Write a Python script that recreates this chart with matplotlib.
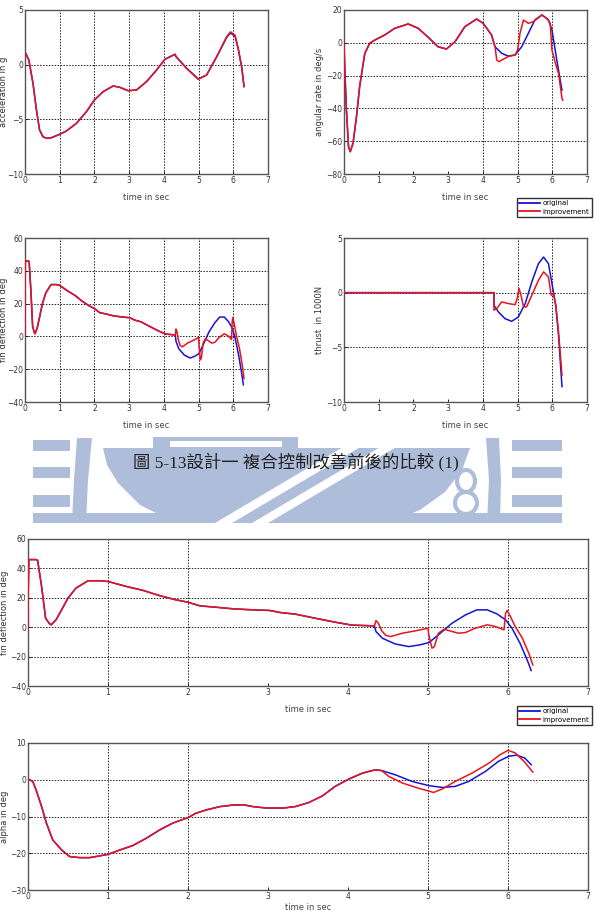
import matplotlib
matplotlib.use("Agg")
import matplotlib.pyplot as plt
from matplotlib.patches import Polygon, Rectangle, Ellipse
from matplotlib.lines import Line2D

W, H = 595, 911

# ---- data -------------------------------------------------------------
# acceleration in g (both runs identical until ~4.3 s)
acc_t = [0.0, 0.02, 0.11, 0.23, 0.33, 0.42, 0.52, 0.62, 0.76, 1.0, 1.19, 1.48, 1.77,
         2.0, 2.25, 2.54, 2.73, 2.97, 3.21, 3.5, 3.79, 4.03, 4.32]
acc_y = [1.0, 1.04, 0.43, -1.7, -4.15, -5.98, -6.6, -6.74, -6.68, -6.37, -6.07, -5.37, -4.3,
         -3.23, -2.47, -1.95, -2.07, -2.38, -2.32, -1.55, -0.49, 0.49, 0.95]
acc_orig_t = [4.32, 4.35, 4.65, 4.99, 5.23, 5.52, 5.81, 5.92, 6.05, 6.14, 6.24, 6.31]
acc_orig_y = [0.95, 0.75, -0.3, -1.3, -0.95, 0.7, 2.5, 2.9, 2.6, 1.5, -0.2, -2.0]
acc_impr_t = [4.32, 4.35, 4.65, 4.99, 5.23, 5.52, 5.81, 5.92, 6.05, 6.14, 6.24, 6.31]
acc_impr_y = [0.95, 0.73, -0.34, -1.34, -0.95, 0.73, 2.56, 3.0, 2.7, 1.5, -0.18, -2.0]

# angular rate in deg/s
rate_t = [0.0, 0.02, 0.07, 0.13, 0.18, 0.26, 0.36, 0.45, 0.6, 0.74, 0.89, 1.17, 1.46,
          1.85, 2.14, 2.43, 2.71, 2.95, 3.2, 3.48, 3.82, 4.01, 4.25, 4.35]
rate_y = [0.0, -14.5, -41, -63.3, -66.4, -61.3, -45, -26.7, -6.4, -0.3, 1.7, 4.75, 8.8,
          11.5, 8.8, 3.3, -2.4, -3.8, 0.7, 9.8, 14.5, 11.9, 4.75, -2.4]
rate_orig_t = [4.35, 4.54, 4.73, 4.93, 5.12, 5.31, 5.5, 5.7, 5.89, 5.99, 6.13, 6.26, 6.28]
rate_orig_y = [-2.4, -6.4, -8.1, -7.4, -2.4, 5.8, 13.9, 17, 14, 7.9, -10.5, -26.7, -28.8]
rate_impr_t = [4.35, 4.4, 4.46, 4.73, 4.93, 5.0, 5.07, 5.17, 5.31, 5.46, 5.7, 5.84, 5.94,
               5.99, 6.09, 6.18, 6.28, 6.3]
rate_impr_y = [-2.4, -10.5, -11.5, -8.4, -7.4, -4.4, 5.8, 13.9, 11.9, 12.9, 17, 14.9, 11.9,
               -4.4, -12.5, -18.6, -33.9, -35]

# fin deflection in deg
fin_t = [0.0, 0.0, 0.01, 0.1, 0.12, 0.17, 0.22, 0.27, 0.29, 0.35, 0.42, 0.5, 0.6, 0.75,
         0.9, 1.0, 1.23, 1.44, 1.65, 1.85, 2.0, 2.15, 2.35, 2.56, 2.81, 3.02, 3.15, 3.34,
         3.59, 3.84, 4.05, 4.33]
fin_y = [0.0, 14, 46, 46, 45.5, 27.7, 6.1, 2.3, 1.6, 5, 11.8, 19.8, 26.6, 31.6,
         31.6, 31.1, 27.7, 25, 21.4, 18.6, 17, 14.5, 13.6, 12.5, 11.8, 11.4, 10, 8.9,
         6.1, 3.4, 1.4, 0.9]
fin_orig_t = [4.33, 4.35, 4.43, 4.59, 4.76, 4.9, 5.01, 5.13, 5.3, 5.47, 5.61, 5.74, 5.86,
              5.97, 6.05, 6.15, 6.24, 6.29]
fin_orig_y = [0.9, -3, -7.5, -11.4, -13.2, -12, -10.5, -5.2, 2.7, 8.4, 11.8, 11.8, 9.1,
              5, -0.7, -10.9, -22.3, -29.5]
fin_impr_t = [4.33, 4.35, 4.38, 4.42, 4.47, 4.53, 4.68, 4.84, 5.0, 5.01, 5.05, 5.08, 5.13,
              5.2, 5.26, 5.38, 5.47, 5.59, 5.74, 5.84, 5.95, 5.97, 5.99, 6.03, 6.09, 6.18,
              6.26, 6.31]
fin_impr_y = [0.9, 4.5, 2.7, -2.3, -5.5, -6.4, -4.1, -2.5, -0.7, -5.2, -14.3, -13.2, -4.1,
              -1.4, -2.3, -4.1, -3.6, -0.7, 1.6, 0.5, -1.8, 9.5, 11.4, 7.3, 0.5, -7.5,
              -17.7, -25.7]

# thrust in 1000N
thr_t = [0.0, 4.32]
thr_y = [0.0, 0.0]
thr_orig_t = [4.32, 4.32, 4.45, 4.64, 4.83, 5.02, 5.22, 5.41, 5.6, 5.75, 5.89, 6.0, 6.1,
              6.18, 6.28]
thr_orig_y = [0.0, -1.16, -1.77, -2.38, -2.62, -2.23, -1.0, 0.98, 2.65, 3.26, 2.65, 0.67,
              -1.16, -3.9, -8.6]
thr_impr_t = [4.32, 4.32, 4.4, 4.54, 4.74, 4.93, 5.0, 5.04, 5.1, 5.17, 5.26, 5.41, 5.6,
              5.75, 5.89, 5.97, 6.03, 6.1, 6.18, 6.28]
thr_impr_y = [0.0, -1.6, -1.46, -0.85, -1.0, -1.1, -0.4, 0.4, -0.24, -1.3, -1.3, -0.24,
              1.13, 1.9, 1.43, -0.24, -0.09, -1.16, -3.6, -7.56]

# alpha in deg
alp_t = [0.0, 0.06, 0.1, 0.17, 0.23, 0.31, 0.42, 0.52, 0.65, 0.77, 0.9, 1.0, 1.15, 1.31,
         1.48, 1.65, 1.81, 2.0, 2.1, 2.23, 2.4, 2.56, 2.69, 2.81, 2.98, 3.19, 3.34, 3.51,
         3.68, 3.84, 4.01, 4.18, 4.34, 4.42]
alp_y = [0.18, -0.45, -2.7, -7.3, -11.8, -16.4, -19.1, -20.9, -21.2, -21.2, -20.7, -20.3,
         -19.1, -17.9, -15.9, -13.6, -11.8, -10.3, -9.1, -8.2, -7.3, -6.9, -6.8, -7.3,
         -7.7, -7.7, -7.3, -6.2, -4.4, -1.8, 0.18, 1.8, 2.7, 2.5]
alp_orig_t = [4.42, 4.59, 4.8, 5.01, 5.18, 5.34, 5.51, 5.72, 5.88, 6.01, 6.11, 6.21, 6.29]
alp_orig_y = [2.5, 1.36, -0.45, -1.6, -2.1, -1.8, -0.45, 2.3, 5.0, 6.4, 6.7, 5.9, 4.1]
alp_impr_t = [4.42, 4.51, 4.68, 4.88, 5.07, 5.18, 5.34, 5.55, 5.76, 5.9, 6.0, 6.09, 6.2, 6.31]
alp_impr_y = [2.5, 0.9, -0.9, -2.3, -3.45, -2.5, -0.45, 1.8, 4.5, 6.8, 8.0, 7.3, 5.0, 2.1]

time_ticks = [0, 1, 2, 3, 4, 5, 6, 7]
caption = "圖 5-13設計一 複合控制改善前後的比較 (1)"

BLUE = "#1414d2"
RED = "#e8141c"
WM = "#aebdda"


def px_rect(left, top, right, bottom):
    return [left / W, 1 - bottom / H, (right - left) / W, (bottom - top) / H]


def pt(x, y):
    return (x / W, 1 - y / H)


fig = plt.figure(figsize=(W / 100, H / 100), dpi=100)

# ---- watermark (school logo behind the caption) ------------------------
wm_patches = []
for x0, x1 in [(33, 70), (512, 562)]:
    for y0, y1 in [(440, 451), (467, 478), (495, 507)]:
        wm_patches.append(Rectangle(pt(x0, y1), (x1 - x0) / W, (y1 - y0) / H))
wm_patches.append(Rectangle(pt(33, 523), (562 - 33) / W, 10 / H))
wm_patches.append(Polygon([pt(77, 438), pt(92, 438), pt(88, 480), pt(86, 523), pt(72, 523),
                           pt(74, 480)]))
wm_patches.append(Polygon([pt(486, 438), pt(499, 438), pt(501, 480), pt(500, 523),
                           pt(487, 523), pt(489, 480)]))
wm_patches.append(Polygon([pt(103, 448), pt(470, 448), pt(462, 470), pt(445, 492),
                           pt(420, 510), pt(395, 520), pt(170, 520), pt(140, 505),
                           pt(118, 483), pt(107, 465)]))
wm_patches.append(Rectangle(pt(153, 448), (298 - 153) / W, 11 / H))
for p in wm_patches:
    p.set_transform(fig.transFigure)
    p.set_facecolor(WM)
    p.set_edgecolor("none")
    p.set_zorder(0)
    fig.patches.append(p)
holes = [Rectangle(pt(170, 447), (282 - 170) / W, 6 / H),
         Polygon([pt(215, 523), pt(232, 523), pt(362, 446), pt(345, 446)]),
         Polygon([pt(252, 523), pt(268, 523), pt(398, 446), pt(382, 446)])]
for p in holes:
    p.set_transform(fig.transFigure)
    p.set_facecolor("white")
    p.set_edgecolor("none")
    p.set_zorder(0.5)
    fig.patches.append(p)
for cy, w, h in [(481, 18, 22), (503, 22, 22)]:
    e = Ellipse(pt(466, cy), w / W, h / H, transform=fig.transFigure,
                facecolor="none", edgecolor=WM, lw=3, zorder=0.6)
    fig.patches.append(e)

fig.text(296 / W, 1 - 463 / H, caption, ha="center", va="center", fontsize=12.5,
         color="#222222", family=["Liberation Serif", "Noto Sans CJK TC"], zorder=2)


def style(ax, box, ylim, yticks, xgrid, ygrid, ylabel, label_x):
    ax.set_xlim(0, 7)
    ax.set_ylim(*ylim)
    ax.set_xticks(time_ticks)
    ax.set_yticks(yticks)
    for x in xgrid:
        ax.axvline(x, color="#222222", ls=(0, (1.5, 1.5)), lw=0.7, zorder=1)
    for y in ygrid:
        ax.axhline(y, color="#222222", ls=(0, (1.5, 1.5)), lw=0.7, zorder=1)
    ax.tick_params(direction="in", length=2, width=0.6, labelsize=5.5,
                   labelcolor="#333333", pad=1.5, top=False, right=False)
    for s in ax.spines.values():
        s.set_color("#555555")
        s.set_linewidth(1.0)
    ax.set_xlabel("time in sec", fontsize=6, color="#444444", labelpad=6)
    ax.set_ylabel(ylabel, fontsize=6, color="#333333")
    left, right = box[0], box[2]
    ax.yaxis.set_label_coords((label_x - left) / (right - left), 0.5)


def draw(ax, t, y, to, yo, ti, yi):
    ax.plot(list(t) + list(to)[1:], list(y) + list(yo)[1:], color=BLUE, lw=1.1, zorder=3)
    ax.plot(list(t) + list(ti)[1:], list(y) + list(yi)[1:], color=RED, lw=1.1, zorder=4)


boxes = {
    "acc": (25, 10, 268, 174),
    "rate": (344, 10, 587, 174),
    "fin": (25, 238, 268, 402),
    "thr": (344, 238, 587, 402),
    "fin2": (28, 539, 588, 686),
    "alp": (28, 743, 588, 890),
}

ax1 = fig.add_axes(px_rect(*boxes["acc"]))
draw(ax1, acc_t, acc_y, acc_orig_t, acc_orig_y, acc_impr_t, acc_impr_y)
style(ax1, boxes["acc"], (-10, 5), [-10, -5, 0, 5], [1, 2, 3, 4, 5, 6], [0, -5],
      "acceleration in g", 8)

ax2 = fig.add_axes(px_rect(*boxes["rate"]))
draw(ax2, rate_t, rate_y, rate_orig_t, rate_orig_y, rate_impr_t, rate_impr_y)
style(ax2, boxes["rate"], (-80, 20), [-80, -60, -40, -20, 0, 20], [4, 5, 6],
      [0, -20, -40, -60], "angular rate in deg/s", 324)

ax3 = fig.add_axes(px_rect(*boxes["fin"]))
draw(ax3, fin_t, fin_y, fin_orig_t, fin_orig_y, fin_impr_t, fin_impr_y)
style(ax3, boxes["fin"], (-40, 60), [-40, -20, 0, 20, 40, 60], [1, 2, 3, 4, 5, 6],
      [40, 20, 0, -20], "fin deflection in deg", 8)

ax4 = fig.add_axes(px_rect(*boxes["thr"]))
draw(ax4, thr_t, thr_y, thr_orig_t, thr_orig_y, thr_impr_t, thr_impr_y)
style(ax4, boxes["thr"], (-10, 5), [-10, -5, 0, 5], [4, 5, 6], [0, -5],
      "thrust  in 1000N", 324)

ax5 = fig.add_axes(px_rect(*boxes["fin2"]))
draw(ax5, fin_t, fin_y, fin_orig_t, fin_orig_y, fin_impr_t, fin_impr_y)
style(ax5, boxes["fin2"], (-40, 60), [-40, -20, 0, 20, 40, 60], [1, 2, 5, 6],
      [40, 20, 0, -20], "fin deflection in deg", 9)

ax6 = fig.add_axes(px_rect(*boxes["alp"]))
draw(ax6, alp_t, alp_y, alp_orig_t, alp_orig_y, alp_impr_t, alp_impr_y)
style(ax6, boxes["alp"], (-30, 10), [-30, -20, -10, 0, 10], [1, 2, 5, 6], [0, -10, -20],
      "alpha in deg", 9)
ax6.xaxis.labelpad = 1.5

handles = [Line2D([], [], color=BLUE, lw=1.3), Line2D([], [], color=RED, lw=1.3)]
labels = ["original", "improvement"]
for top in (198, 706):
    fig.legend(handles, labels, loc="upper left", bbox_to_anchor=pt(517, top),
               fontsize=5, frameon=True, fancybox=False, edgecolor="#333333",
               framealpha=1, borderaxespad=0, handlelength=3.0, borderpad=0.35,
               labelspacing=0.35, handletextpad=0.3)

fig.savefig("out.png", dpi=100)
